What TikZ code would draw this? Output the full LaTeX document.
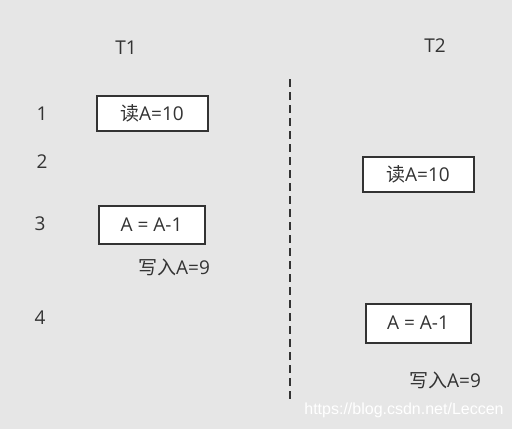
\documentclass[tikz,border=0pt]{standalone}
\usepackage{fontspec}
\setmainfont{Open Sans}
\newfontfamily\cjk{Noto Sans CJK SC}
\newfontfamily\wmfont{Liberation Sans}
\definecolor{bgc}{HTML}{E6E6E6}
\definecolor{txt}{HTML}{333333}
\begin{document}
\begin{tikzpicture}[x=1pt,y=-1pt,
  lbl/.style={text=txt,font=\fontsize{19}{21}\selectfont,inner sep=0pt},
  opbox/.style={draw=txt,line width=2pt,fill=white,text=txt,font=\fontsize{19}{21}\selectfont,inner sep=0pt,minimum height=35pt}]
\fill[bgc] (0,0) rectangle (512,429);
\useasboundingbox (0,0) rectangle (512,429);
\node[lbl] (t1) at (126,48) {T1};
\node[lbl] (t2) at (435,46) {T2};
\node[lbl] (n1) at (42,114) {1};
\node[lbl] (n2) at (42,162) {2};
\node[lbl] (n3) at (40,224) {3};
\node[lbl] (n4) at (40,318) {4};
\node[opbox,minimum width=111pt] (r1) at (152,113) {{\cjk 读}A=10};
\node[opbox,minimum width=111pt] (r2) at (418,174.5) {{\cjk 读}A=10};
\node[opbox,minimum width=106pt,minimum height=38pt] (c1) at (151.5,224.5) {A = A-1};
\node[opbox,minimum width=105pt,minimum height=39pt] (c2) at (418,323) {A = A-1};
\node[lbl] (w1) at (174,267) {{\cjk 写入}A=9};
\node[lbl] (w2) at (445,380) {{\cjk 写入}A=9};
\coordinate (dtop) at (290,79);
\coordinate (dbot) at (290,400);
\draw[txt,line width=2pt,dash pattern=on 8pt off 5pt] (dtop) -- (dbot);
\node[text=white,font=\wmfont\fontsize{16}{18}\selectfont,inner sep=0pt] (wm) at (404,410) {https://blog.csdn.net/Leccen};
\end{tikzpicture}
\end{document}
